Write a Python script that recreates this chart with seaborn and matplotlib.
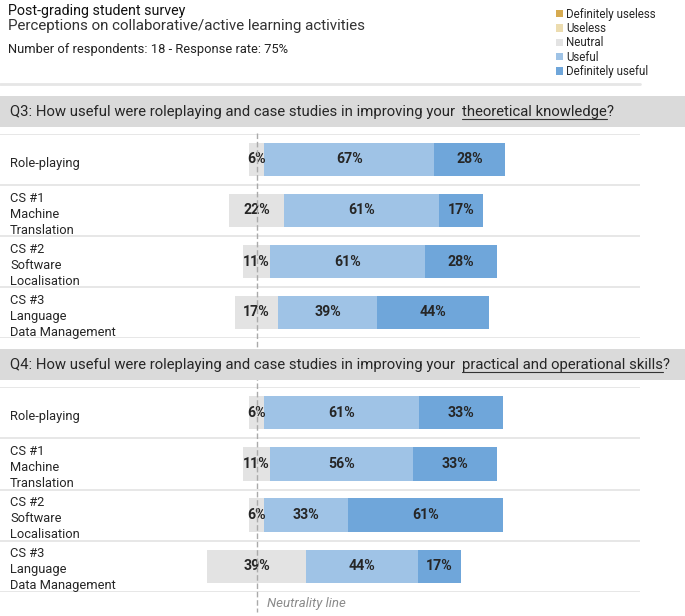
import pandas as pd
import matplotlib.pyplot as plt
import seaborn as sns
from matplotlib.patches import Patch, Rectangle
from matplotlib.lines import Line2D

# Data (percent of respondents)
rows = ['Role-playing', 'CS #1\nMachine\nTranslation', 'CS #2\nSoftware\nLocalisation',
        'CS #3\nLanguage\nData Management']
levels = ['Definitely useless', 'Useless', 'Neutral', 'Useful', 'Definitely useful']
level_colors = ['#d6aa50', '#ecdcaf', '#e3e3e3', '#9fc3e6', '#6fa6da']

q3_def_useless = [0, 0, 0, 0]
q3_useless = [0, 0, 0, 0]
q3_neutral = [6, 22, 11, 17]
q3_useful = [67, 61, 61, 39]
q3_def_useful = [28, 17, 28, 44]

q4_def_useless = [0, 0, 0, 0]
q4_useless = [0, 0, 0, 0]
q4_neutral = [6, 11, 6, 39]
q4_useful = [61, 56, 33, 44]
q4_def_useful = [33, 33, 61, 17]

questions = [
    ('Q3: How useful were roleplaying and case studies in improving your ', 'theoretical knowledge',
     [q3_def_useless, q3_useless, q3_neutral, q3_useful, q3_def_useful]),
    ('Q4: How useful were roleplaying and case studies in improving your ', 'practical and operational skills',
     [q4_def_useless, q4_useless, q4_neutral, q4_useful, q4_def_useful]),
]

sns.set_theme(style='white')
plt.rcParams['font.family'] = ['Roboto', 'DejaVu Sans']

W, H = 685, 616
fig = plt.figure(figsize=(W / 100, H / 100), dpi=100)


def fx(px):
    return px / W


def fy(py):
    return 1 - py / H


# header block
fig.text(fx(8), fy(11), 'Post-grading student survey', fontsize=10.3, va='center', color='#111111')
fig.text(fx(8), fy(26), 'Perceptions on collaborative/active learning activities', fontsize=10.9,
         va='center', color='#333333')
fig.text(fx(8), fy(50), 'Number of respondents: 18 - Response rate: 75%', fontsize=9.3,
         va='center', color='#222222')
fig.add_artist(Line2D([0, fx(640)], [fy(84), fy(84)], color='#e6e6e6', lw=2, transform=fig.transFigure))

handles = [Patch(facecolor=c, edgecolor='none') for c in level_colors]
fig.legend(handles, levels, loc='upper left', bbox_to_anchor=(fx(551), fy(3)), frameon=False,
           handlelength=0.6, handleheight=0.6, handletextpad=0.3, labelspacing=0.12,
           fontsize=8.3, borderaxespad=0)

band_tops = [96, 349]
axes_spans = [(134, 338), (387, 592)]

fig.canvas.draw()
renderer = fig.canvas.get_renderer()

for (pre, under, data), band_top, (ytop, ybot) in zip(questions, band_tops, axes_spans):
    def_useless, useless, neutral, useful, def_useful = data

    # question band with partially underlined text
    fig.add_artist(Rectangle((0, fy(band_top + 31)), 1, 31 / H, transform=fig.transFigure,
                             facecolor='#dadada', edgecolor='none', zorder=2.5))
    base = fy(band_top + 20)
    t1 = fig.text(fx(10), base, pre, fontsize=10.7, va='baseline', zorder=4)
    x1 = t1.get_window_extent(renderer).x1 + 3
    t2 = fig.text(x1 / W, base, under, fontsize=10.7, va='baseline', zorder=4)
    x2 = t2.get_window_extent(renderer).x1
    fig.text(x2 / W, base, '?', fontsize=10.7, va='baseline', zorder=4)
    fig.add_artist(Line2D([x1 / W, x2 / W], [fy(band_top + 23), fy(band_top + 23)], color='#333333',
                          lw=0.8, transform=fig.transFigure, zorder=4))

    ax = fig.add_axes([0, fy(ybot), fx(640), (ybot - ytop) / H])

    df = pd.DataFrame({'row': rows, 'def_useless': def_useless, 'useless': useless,
                       'neutral': neutral, 'useful': useful, 'def_useful': def_useful})
    half = df['neutral'] / 2
    # ends of each segment, measured from the neutrality line
    layers = [
        (half + df['useful'] + df['def_useful'], level_colors[4]),
        (half + df['useful'], level_colors[3]),
        (half, level_colors[2]),
        (-(half + df['useless'] + df['def_useless']), level_colors[0]),
        (-(half + df['useless']), level_colors[1]),
        (-half, level_colors[2]),
    ]
    for end, col in layers:
        sns.barplot(x=end, y=df['row'], orient='h', color=col, saturation=1, width=0.65,
                    errorbar=None, linewidth=0, ax=ax)

    for i, r in df.iterrows():
        h = r['neutral'] / 2
        if r['neutral'] > 0:
            ax.text(0, i, f"{r['neutral']}%", ha='center', va='center', fontsize=10.2, fontweight='bold')
        if r['useful'] > 0:
            ax.text(h + r['useful'] / 2, i, f"{r['useful']}%", ha='center', va='center',
                    fontsize=10.2, fontweight='bold')
        if r['def_useful'] > 0:
            ax.text(h + r['useful'] + r['def_useful'] / 2, i, f"{r['def_useful']}%", ha='center',
                    va='center', fontsize=10.2, fontweight='bold')
        ax.text(10 / 640, i + 0.07, r['row'], transform=ax.get_yaxis_transform(), ha='left',
                va='center', fontsize=9.3, linespacing=1.3)

    for yy in [-0.5, 0.5, 1.5, 2.5, 3.5]:
        ax.axhline(yy, color='#e3e3e3', lw=1.2)

    ax.set_xlim(-101, 151)
    ax.set_ylim(3.5, -0.5)
    ax.axis('off')

# neutrality line
fig.add_artist(Line2D([fx(257), fx(257)], [fy(133), fy(612)], color='#aaaaaa', lw=1,
                      linestyle=(0, (4, 2)), transform=fig.transFigure, zorder=1.5))
fig.text(fx(267), fy(604), 'Neutrality line', fontsize=9.5, style='italic', color='#8a8a8a', va='center')

fig.savefig('out.png', dpi=100)
